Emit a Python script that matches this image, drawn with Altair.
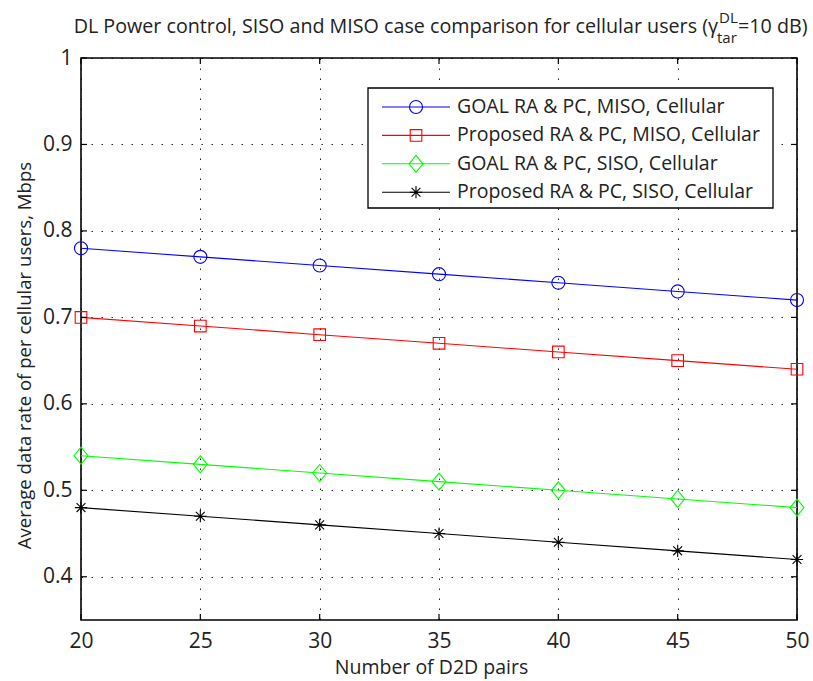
import altair as alt
import pandas as pd

# ---------------- data ----------------
d2d_pairs = [20, 25, 30, 35, 40, 45, 50]
series_names = [
    "GOAL RA & PC, MISO, Cellular",
    "Proposed RA & PC, MISO, Cellular",
    "GOAL RA & PC, SISO, Cellular",
    "Proposed RA & PC, SISO, Cellular",
]
goal_miso = [0.78, 0.77, 0.76, 0.75, 0.74, 0.73, 0.72]
prop_miso = [0.70, 0.69, 0.68, 0.67, 0.66, 0.65, 0.64]
goal_siso = [0.54, 0.53, 0.52, 0.51, 0.50, 0.49, 0.48]
prop_siso = [0.48, 0.47, 0.46, 0.45, 0.44, 0.43, 0.42]
x_ticks = [20, 25, 30, 35, 40, 45, 50]
y_ticks = [0.4, 0.5, 0.6, 0.7, 0.8, 0.9, 1.0]

colors = ["#0000ff", "#ff0000", "#00ff00", "#000000"]
circle = "circle"
square = "square"
diamond = "M0,-1L0.82,0L0,1L-0.82,0Z"
star = "M0,-1L0,1M-1,0L1,0M-0.72,-0.72L0.72,0.72M-0.72,0.72L0.72,-0.72"
shapes = [circle, square, diamond, star]
sizes = [170, 135, 290, 150]
size_of = dict(zip(series_names, sizes))

rows = []
for name, vals in zip(series_names, [goal_miso, prop_miso, goal_siso, prop_siso]):
    for xv, yv in zip(d2d_pairs, vals):
        rows.append({"series": name, "pairs": xv, "rate": yv, "msize": size_of[name]})
df = pd.DataFrame(rows)

W, H = 716, 562
FONT = "Open Sans"
TXT = "#222"

x_scale = alt.Scale(domain=[20, 50], nice=False, zero=False)
y_scale = alt.Scale(domain=[0.35, 1.0], nice=False, zero=False)
color_scale = alt.Scale(domain=series_names, range=colors)
shape_scale = alt.Scale(domain=series_names, range=shapes)

x_axis = alt.Axis(
    values=x_ticks, grid=True, gridDash=[1.5, 8.5], gridColor="#000", gridOpacity=0.85,
    gridWidth=1, ticks=False, domain=False, labelFontSize=21, labelFont=FONT,
    labelColor=TXT, labelPadding=10, labelFlush=False, labelOverlap=False,
    title="Number of D2D pairs",
    titleFont=FONT, titleFontSize=19.5, titleFontWeight="normal", titleColor=TXT,
    titleX=350, titleY=53, titleBaseline="alphabetic", titleAlign="center",
)
y_axis = alt.Axis(
    values=y_ticks, grid=True, gridDash=[1.5, 8.5], gridColor="#000", gridOpacity=0.85,
    gridWidth=1, ticks=False, domain=False, labelFontSize=21, labelFont=FONT,
    labelColor=TXT, labelPadding=9, labelFlush=False, labelOverlap=False,
    labelExpr="datum.value == 1 ? '1' : format(datum.value, '.1f')",
    title="Average data rate of per cellular users, Mbps",
    titleFont=FONT, titleFontSize=18.6, titleFontWeight="normal", titleColor=TXT,
    titleAngle=270, titleX=-57, titleY=297, titleBaseline="middle", titleAlign="center",
)

base = alt.Chart(df)
lines = base.mark_line(strokeWidth=1.1).encode(
    x=alt.X("pairs:Q", scale=x_scale, axis=x_axis),
    y=alt.Y("rate:Q", scale=y_scale, axis=y_axis),
    color=alt.Color("series:N", scale=color_scale, legend=None),
)
points = base.mark_point(filled=False, strokeWidth=1.1, opacity=1).encode(
    x=alt.X("pairs:Q", scale=x_scale),
    y=alt.Y("rate:Q", scale=y_scale),
    color=alt.Color("series:N", scale=color_scale, legend=None),
    shape=alt.Shape("series:N", scale=shape_scale, legend=None),
    size=alt.Size("msize:Q", scale=None, legend=None),
)

# inward tick marks on all four sides
xt = alt.Chart(pd.DataFrame({"t": x_ticks}))
yt = alt.Chart(pd.DataFrame({"t": y_ticks}))
tick_style = dict(color="#000", strokeWidth=1.2)
ticks_bottom = xt.mark_rule(**tick_style).encode(
    x=alt.X("t:Q", scale=x_scale), y=alt.value(H), y2=alt.value(H - 6))
ticks_top = xt.mark_rule(**tick_style).encode(
    x=alt.X("t:Q", scale=x_scale), y=alt.value(0), y2=alt.value(6))
ticks_left = yt.mark_rule(**tick_style).encode(
    y=alt.Y("t:Q", scale=y_scale), x=alt.value(0), x2=alt.value(6))
ticks_right = yt.mark_rule(**tick_style).encode(
    y=alt.Y("t:Q", scale=y_scale), x=alt.value(W), x2=alt.value(W - 6))

# title with super/subscript
one = alt.Chart(pd.DataFrame({"a": [0]}))
t_main = one.mark_text(font=FONT, fontSize=19.7, align="right", baseline="alphabetic",
                       color=TXT).encode(
    x=alt.value(637), y=alt.value(-25),
    text=alt.value("DL Power control, SISO and MISO case comparison for cellular users (\u03b3"))
t_sup = one.mark_text(font=FONT, fontSize=15, align="left", baseline="alphabetic",
                      color=TXT).encode(x=alt.value(638), y=alt.value(-35), text=alt.value("DL"))
t_sub = one.mark_text(font=FONT, fontSize=15, align="left", baseline="alphabetic",
                      color=TXT).encode(x=alt.value(636), y=alt.value(-15), text=alt.value("tar"))
t_end = one.mark_text(font=FONT, fontSize=19.7, align="left", baseline="alphabetic",
                      color=TXT).encode(x=alt.value(657), y=alt.value(-25), text=alt.value("=10 dB)"))

# legend (manual, MATLAB style)
leg_df = pd.DataFrame({"series": series_names,
                       "ly": [49 + 28.4 * i for i in range(4)],
                       "msize": sizes})
leg = alt.Chart(leg_df)
leg_box = one.mark_rect(fill="white", stroke="#000", strokeWidth=1.3).encode(
    x=alt.value(287), x2=alt.value(692), y=alt.value(30), y2=alt.value(150))
leg_lines = leg.mark_rule(strokeWidth=1.1).encode(
    x=alt.value(301), x2=alt.value(369),
    y=alt.Y("ly:Q", scale=None, axis=None),
    color=alt.Color("series:N", scale=color_scale, legend=None),
)
leg_pts = leg.mark_point(filled=False, strokeWidth=1.1, opacity=1).encode(
    x=alt.value(335),
    y=alt.Y("ly:Q", scale=None, axis=None),
    color=alt.Color("series:N", scale=color_scale, legend=None),
    shape=alt.Shape("series:N", scale=shape_scale, legend=None),
    size=alt.Size("msize:Q", scale=None, legend=None),
)
leg_text = leg.mark_text(font=FONT, fontSize=19.5, align="left", baseline="middle",
                         color=TXT).encode(
    x=alt.value(376),
    y=alt.Y("ly:Q", scale=None, axis=None),
    text="series:N",
)

chart = alt.layer(
    lines, points, ticks_bottom, ticks_top, ticks_left, ticks_right,
    t_main, t_sup, t_sub, t_end, leg_box, leg_lines, leg_pts, leg_text,
).properties(
    width=W, height=H,
    autosize=alt.AutoSizeParams(type="none"),
    padding={"left": 81, "top": 58, "right": 16, "bottom": 61},
    background="white",
).configure_view(stroke="#000", strokeWidth=1.6)

chart.save("out.html", embed_options={"renderer": "svg", "actions": False})
